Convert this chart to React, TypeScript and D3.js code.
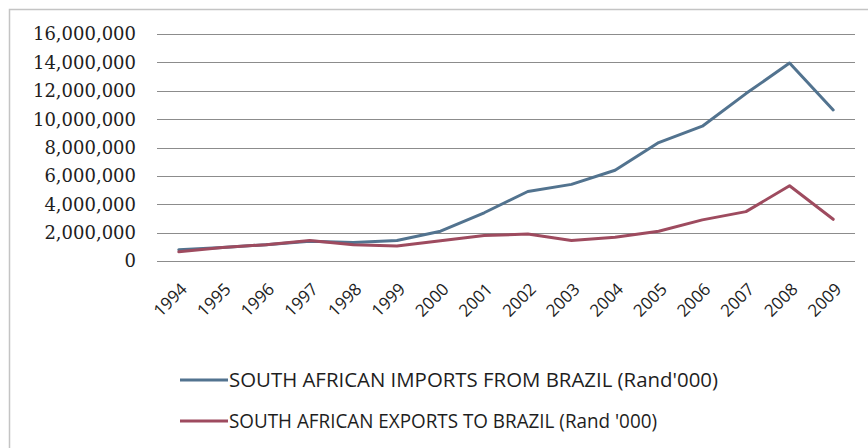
import React from "react";
import * as d3 from "d3";

const years = ["1994","1995","1996","1997","1998","1999","2000","2001","2002","2003","2004","2005","2006","2007","2008","2009"];
const imports = [800000, 950000, 1150000, 1400000, 1300000, 1450000, 2100000, 3400000, 4900000, 5400000, 6400000, 8350000, 9500000, 11800000, 13950000, 10650000];
const exports = [650000, 950000, 1150000, 1450000, 1150000, 1050000, 1430000, 1790000, 1900000, 1450000, 1670000, 2100000, 2900000, 3480000, 5300000, 2940000];
const yTicks = [0, 2000000, 4000000, 6000000, 8000000, 10000000, 12000000, 14000000, 16000000];
const seriesNames = ["SOUTH AFRICAN IMPORTS FROM BRAZIL (Rand'000)", "SOUTH AFRICAN EXPORTS TO BRAZIL (Rand '000)"];
const seriesColors = ["#52738f", "#9e4b5f"];

export default function App() {
  const W = 868, H = 448;
  const x = d3.scaleBand<string>().domain(years).range([157, 855]);
  const y = d3.scaleLinear().domain([0, 16000000]).range([261, 34]);
  const fmt = d3.format(",");
  const line = d3.line<number>()
    .x((_, i) => (x(years[i]) as number) + x.bandwidth() / 2)
    .y((d) => y(d));
  const series = [imports, exports];
  return (
    <svg width={W} height={H} style={{ position: "absolute", left: 0, top: 0, background: "#fff" }}>
      <rect x={9.5} y={9.5} width={870} height={450} fill="#fff" stroke="#c4c4c4" strokeWidth={1.5} />
      {yTicks.map((t) => (
        <g key={t}>
          <line x1={157} x2={855} y1={Math.round(y(t)) + 0.5} y2={Math.round(y(t)) + 0.5} stroke="#8c8c8c" strokeWidth={1.2} />
          <text x={136} y={y(t)} dy="0.36em" textAnchor="end" fontFamily="DejaVu Serif" fontSize={18} fill="#1e1e1e">{fmt(t)}</text>
        </g>
      ))}
      {years.map((yr) => {
        const cx = (x(yr) as number) + x.bandwidth() / 2 + 5;
        const cy = 286;
        return (
          <text key={yr} x={cx} y={cy} dy="0.36em" textAnchor="end" transform={`rotate(-45 ${cx} ${cy})`} fontFamily="Open Sans" fontSize={17} fill="#1e1e1e">{yr}</text>
        );
      })}
      {series.map((s, i) => (
        <path key={i} d={line(s) as string} fill="none" stroke={seriesColors[i]} strokeWidth={3} strokeLinejoin="round" strokeLinecap="round" />
      ))}
      {seriesNames.map((n, i) => {
        const ly = 380 + i * 41;
        return (
          <g key={n}>
            <line x1={180} x2={228} y1={ly} y2={ly} stroke={seriesColors[i]} strokeWidth={3} />
            <text x={229} y={ly} dy="0.36em" fontFamily="Open Sans" fontSize={20} fill="#1e1e1e" textLength={i === 0 ? 489 : 428} lengthAdjust="spacingAndGlyphs">{n}</text>
          </g>
        );
      })}
    </svg>
  );
}
